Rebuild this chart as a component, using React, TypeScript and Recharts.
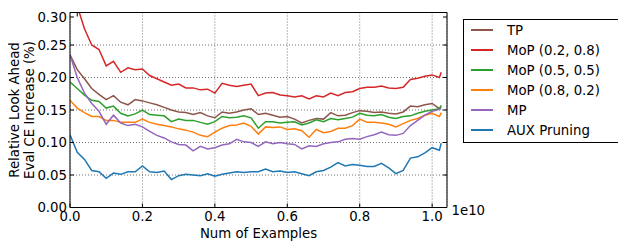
import { LineChart, Line, XAxis, YAxis, CartesianGrid, Legend } from 'recharts';

const FONT = '"DejaVu Sans", sans-serif';

// number of examples, in units of 1e10
const examples = [
  0, 0.02, 0.04, 0.06, 0.08, 0.1, 0.12, 0.14, 0.16, 0.18,
  0.2, 0.22, 0.24, 0.26, 0.28, 0.3, 0.32, 0.34, 0.36, 0.38,
  0.4, 0.42, 0.44, 0.46, 0.48, 0.5, 0.52, 0.54, 0.56, 0.58,
  0.6, 0.62, 0.64, 0.66, 0.68, 0.7, 0.72, 0.74, 0.76, 0.78,
  0.8, 0.82, 0.84, 0.86, 0.88, 0.9, 0.92, 0.94, 0.96, 0.98,
  1.0, 1.02, 1.025,
];

const tp = [
  0.235, 0.212, 0.198, 0.183, 0.174, 0.166, 0.172, 0.162, 0.158, 0.166,
  0.164, 0.161, 0.158, 0.154, 0.150, 0.147, 0.146, 0.143, 0.146, 0.141,
  0.138, 0.147, 0.145, 0.147, 0.150, 0.152, 0.143, 0.145, 0.142, 0.139,
  0.140, 0.136, 0.130, 0.134, 0.137, 0.136, 0.146, 0.141, 0.142, 0.146,
  0.149, 0.148, 0.146, 0.147, 0.145, 0.144, 0.147, 0.156, 0.155, 0.158,
  0.160, 0.152, 0.155,
];

const mop28 = [
  0.340, 0.310, 0.275, 0.250, 0.243, 0.218, 0.225, 0.208, 0.215, 0.212,
  0.213, 0.203, 0.198, 0.193, 0.188, 0.190, 0.184, 0.184, 0.181, 0.182,
  0.176, 0.191, 0.188, 0.186, 0.188, 0.190, 0.172, 0.176, 0.177, 0.173,
  0.172, 0.170, 0.172, 0.167, 0.172, 0.170, 0.176, 0.172, 0.177, 0.178,
  0.183, 0.185, 0.185, 0.187, 0.184, 0.183, 0.185, 0.197, 0.199, 0.202,
  0.204, 0.200, 0.208,
];

const mop55 = [
  0.193, 0.183, 0.173, 0.165, 0.163, 0.153, 0.156, 0.145, 0.141, 0.144,
  0.150, 0.143, 0.142, 0.141, 0.132, 0.136, 0.134, 0.134, 0.131, 0.128,
  0.132, 0.140, 0.138, 0.139, 0.141, 0.138, 0.122, 0.132, 0.132, 0.130,
  0.131, 0.132, 0.127, 0.130, 0.135, 0.132, 0.137, 0.135, 0.137, 0.139,
  0.145, 0.142, 0.141, 0.143, 0.139, 0.137, 0.140, 0.141, 0.145, 0.148,
  0.150, 0.152, 0.157,
];

const mop82 = [
  0.165, 0.153, 0.146, 0.140, 0.140, 0.134, 0.134, 0.131, 0.131, 0.131,
  0.136, 0.131, 0.128, 0.126, 0.124, 0.121, 0.119, 0.116, 0.111, 0.109,
  0.116, 0.122, 0.126, 0.127, 0.130, 0.125, 0.113, 0.124, 0.123, 0.124,
  0.120, 0.121, 0.118, 0.108, 0.120, 0.115, 0.117, 0.122, 0.122, 0.126,
  0.136, 0.131, 0.131, 0.130, 0.128, 0.124, 0.129, 0.134, 0.137, 0.142,
  0.145, 0.140, 0.146,
];

const mp = [
  0.235, 0.200, 0.176, 0.160, 0.148, 0.128, 0.142, 0.130, 0.126, 0.128,
  0.124, 0.117, 0.111, 0.107, 0.101, 0.097, 0.096, 0.087, 0.094, 0.090,
  0.092, 0.096, 0.098, 0.105, 0.101, 0.100, 0.094, 0.101, 0.098, 0.100,
  0.098, 0.097, 0.090, 0.095, 0.094, 0.098, 0.100, 0.101, 0.105, 0.106,
  0.105, 0.109, 0.112, 0.116, 0.112, 0.111, 0.114, 0.126, 0.134, 0.142,
  0.148, 0.151, 0.152,
];

const aux = [
  0.112, 0.085, 0.074, 0.057, 0.055, 0.045, 0.053, 0.051, 0.055, 0.055,
  0.064, 0.055, 0.054, 0.056, 0.043, 0.049, 0.051, 0.050, 0.049, 0.052,
  0.048, 0.051, 0.053, 0.055, 0.054, 0.055, 0.055, 0.059, 0.055, 0.056,
  0.054, 0.055, 0.052, 0.049, 0.055, 0.057, 0.062, 0.069, 0.064, 0.066,
  0.065, 0.063, 0.063, 0.068, 0.061, 0.052, 0.057, 0.076, 0.078, 0.084,
  0.092, 0.088, 0.099,
];

const xTicks = [0, 0.2, 0.4, 0.6, 0.8, 1.0];
const yTicks = [0, 0.05, 0.1, 0.15, 0.2, 0.25, 0.3];

const series = [
  { key: 'tp', name: 'TP', color: '#8c564b', values: tp },
  { key: 'mop28', name: 'MoP (0.2, 0.8)', color: '#d62728', values: mop28 },
  { key: 'mop55', name: 'MoP (0.5, 0.5)', color: '#2ca02c', values: mop55 },
  { key: 'mop82', name: 'MoP (0.8, 0.2)', color: '#ff7f0e', values: mop82 },
  { key: 'mp', name: 'MP', color: '#9467bd', values: mp },
  { key: 'aux', name: 'AUX Pruning', color: '#1f77b4', values: aux },
];

const data = examples.map((x, i) => {
  const row: Record<string, number> = { x };
  series.forEach((s) => {
    row[s.key] = s.values[i];
  });
  return row;
});

const textStyle = { fontFamily: FONT, fontSize: 13.3, fill: '#000' };

function LeftTick({ x, y, payload }: any) {
  return (
    <g>
      <line x1={x} x2={x + 4} y1={y} y2={y} stroke="#000" />
      <text x={x - 3} y={y} textAnchor="end" dominantBaseline="central" {...textStyle}>
        {Number(payload.value).toFixed(2)}
      </text>
    </g>
  );
}

function RightTick({ x, y }: any) {
  return <line x1={x - 4} x2={x} y1={y} y2={y} stroke="#000" />;
}

function BottomTick({ x, y, payload }: any) {
  return (
    <g>
      <line x1={x} x2={x} y1={y} y2={y - 4} stroke="#000" />
      <text x={x} y={y + 9} textAnchor="middle" dominantBaseline="central" {...textStyle}>
        {Number(payload.value).toFixed(1)}
      </text>
    </g>
  );
}

function TopTick({ x, y }: any) {
  return <line x1={x} x2={x} y1={y} y2={y + 4} stroke="#000" />;
}

function YLabel({ viewBox }: any) {
  const cy = viewBox.y + viewBox.height / 2;
  const x1 = viewBox.x + 6.5;
  const x2 = viewBox.x + 21.5;
  return (
    <g>
      <text x={x1} y={cy} transform={`rotate(-90 ${x1} ${cy})`} textAnchor="middle" dominantBaseline="central" {...textStyle}>
        Relative Look Ahead
      </text>
      <text x={x2} y={cy} transform={`rotate(-90 ${x2} ${cy})`} textAnchor="middle" dominantBaseline="central" {...textStyle}>
        Eval CE Increase (%)
      </text>
    </g>
  );
}

function XLabel({ viewBox }: any) {
  return (
    <g>
      <text x={viewBox.x + viewBox.width / 2} y={viewBox.y + 25.5} textAnchor="middle" dominantBaseline="central" {...textStyle}>
        Num of Examples
      </text>
      <text x={viewBox.x + viewBox.width + 4.5} y={viewBox.y + 2.5} textAnchor="start" dominantBaseline="central" {...textStyle}>
        1e10
      </text>
    </g>
  );
}

function LegendBox() {
  return (
    <div
      style={{
        boxSizing: 'border-box',
        border: '1px solid #000',
        background: '#fff',
        paddingBottom: 2,
        fontFamily: FONT,
        fontSize: 13.3,
        color: '#000',
        width: 156,
      }}
    >
      {series.map((s) => (
        <div key={s.key} style={{ display: 'flex', alignItems: 'center', height: 20 }}>
          <div style={{ marginLeft: 7, width: 22, height: 2.5, background: s.color, flexShrink: 0 }} />
          <span style={{ marginLeft: 14, whiteSpace: 'nowrap' }}>{s.name}</span>
        </div>
      ))}
    </div>
  );
}

export default function App() {
  return (
    <LineChart width={618} height={240} data={data} margin={{ top: 3.5, right: 178, bottom: 0, left: 0 }}>
      <CartesianGrid stroke="#000" strokeOpacity={0.55} strokeDasharray="1 2" />
      <XAxis
        dataKey="x"
        type="number"
        domain={[0, 1.041]}
        ticks={xTicks}
        allowDataOverflow
        height={40.5}
        tickSize={0}
        tickMargin={0}
        axisLine={{ stroke: '#000' }}
        tickLine={false}
        tick={BottomTick}
        label={XLabel}
      />
      <XAxis
        xAxisId="t"
        orientation="top"
        type="number"
        domain={[0, 1.041]}
        ticks={xTicks}
        allowDataOverflow
        height={1}
        tickSize={0}
        tickMargin={0}
        axisLine={{ stroke: '#000' }}
        tickLine={false}
        tick={TopTick}
      />
      <YAxis
        type="number"
        domain={[0, 0.3]}
        ticks={yTicks}
        allowDataOverflow
        width={62}
        tickSize={0}
        tickMargin={0}
        axisLine={{ stroke: '#000' }}
        tickLine={false}
        tick={LeftTick}
        label={YLabel}
      />
      <YAxis
        yAxisId="r"
        orientation="right"
        type="number"
        domain={[0, 0.3]}
        ticks={yTicks}
        allowDataOverflow
        width={1}
        tickSize={0}
        tickMargin={0}
        axisLine={{ stroke: '#000' }}
        tickLine={false}
        tick={RightTick}
      />
      <Legend
        layout="vertical"
        align="center"
        verticalAlign="middle"
        wrapperStyle={{ left: 455, top: 11, width: 156, height: 'auto' }}
        content={() => <LegendBox />}
      />
      {series.map((s) => (
        <Line
          key={s.key}
          dataKey={s.key}
          name={s.name}
          type="linear"
          stroke={s.color}
          strokeWidth={1.5}
          dot={false}
          isAnimationActive={false}
        />
      ))}
    </LineChart>
  );
}
